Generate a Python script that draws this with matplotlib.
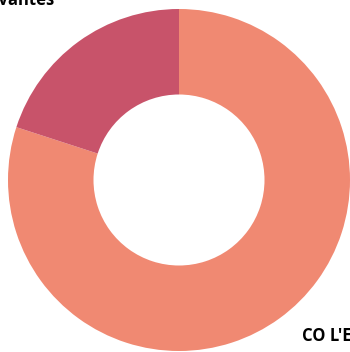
import matplotlib
matplotlib.use("Agg")
import matplotlib.pyplot as plt

labels = ["CO L'ENTREPRISE", "Relevantes"]
values = [80, 20]
colors = ["#F08972", "#C8536A"]

W, H = 350, 352
fig = plt.figure(figsize=(W/100, H/100), dpi=100)
cx, cy, r = 179, 180, 171
ax = fig.add_axes([(cx - r)/W, (H - cy - r)/H, 2*r/W, 2*r/H])
ax.pie(values, colors=colors, startangle=90, counterclock=False,
       radius=1, wedgeprops=dict(width=0.5, linewidth=0))
ax.set_xlim(-1, 1)
ax.set_ylim(-1, 1)
ax.set_aspect('equal')
ax.axis('off')

fig.text(302/W, 1 - 341/H, labels[0], ha='left', va='baseline',
         fontsize=12, fontweight='bold', family='Open Sans', color='black')
fig.text(55/W, 1 - 5/H, labels[1], ha='right', va='baseline',
         fontsize=12, fontweight='bold', family='Open Sans', color='black')

fig.savefig("out.png", dpi=100)
